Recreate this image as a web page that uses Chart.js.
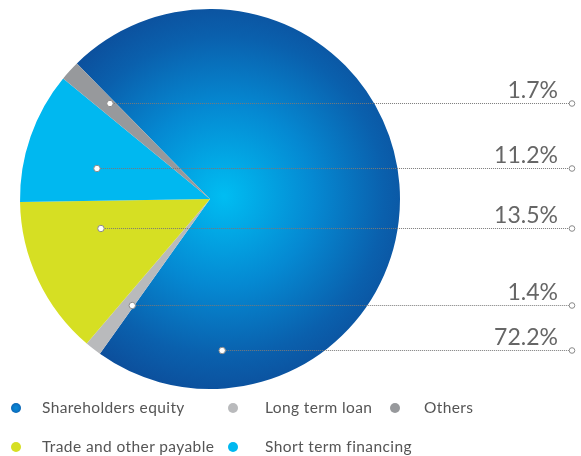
<!DOCTYPE html>
<html>
<head>
<meta charset="utf-8">
<script src="https://cdn.jsdelivr.net/npm/chart.js@4"></script>
<style>
  html, body { margin: 0; padding: 0; background: #fff; }
  #wrap { position: relative; width: 581px; height: 456px; overflow: hidden; }
  #legende { position: absolute; left: 0; top: 0; width: 581px; height: 456px; pointer-events: none;
    font-family: Lato, "Open Sans", sans-serif; font-size: 15.5px; letter-spacing: 0.4px; color: #555; }
  .item { position: absolute; white-space: nowrap; line-height: 18px; }
  .puce { position: absolute; width: 10px; height: 10px; border-radius: 50%; }
</style>
</head>
<body>
<div id="wrap">
  <canvas id="graphique" width="581" height="456"></canvas>
  <div id="legende"></div>
</div>
<script>
"use strict";

// donnees
const categories = ["Shareholders equity", "Long term loan", "Trade and other payable", "Short term financing", "Others"];
const valeurs = [72.2, 1.4, 13.5, 11.2, 1.7];
const etiquettes = ["72.2%", "1.4%", "13.5%", "11.2%", "1.7%"];

// style
const couleurs = ["#0b5aa8", "#b9babc", "#d6df23", "#00b8f0", "#97999c"];
// position du point d'ancrage dans chaque part : fraction de l'angle, fraction du rayon
const ancrages = [[0.846, 0.797], [0.19, 0.69], [0.713, 0.594], [0.404, 0.617], [0.727, 0.73]];
// ordre et position de la legende (index dans categories) : [x puce, x texte, y]
const ordreLegende = [0, 1, 4, 2, 3];
const placesLegende = [[16, 42, 408], [233, 265, 408], [395, 424, 408], [16, 42, 447], [233, 265, 447]];

const finLigneX = 572;

function fondPart(ctx) {
  if (ctx.dataIndex !== 0) return couleurs[ctx.dataIndex];
  const chart = ctx.chart;
  const area = chart.chartArea;
  if (!area) return couleurs[0];
  const cx = (area.left + area.right) / 2 + 14;
  const cy = (area.top + area.bottom) / 2 - 3;
  const g = chart.ctx.createRadialGradient(cx, cy, 0, cx, cy, 200);
  g.addColorStop(0, "#00bdf2");
  g.addColorStop(0.45, "#0589d2");
  g.addColorStop(0.8, "#0a60ad");
  g.addColorStop(1, "#0c4f9c");
  return g;
}

const lignesRepere = {
  id: "lignesRepere",
  afterDatasetsDraw(chart) {
    const ctx = chart.ctx;
    const arcs = chart.getDatasetMeta(0).data;
    ctx.save();
    arcs.forEach((arc, i) => {
      const p = arc.getProps(["x", "y", "startAngle", "endAngle", "outerRadius"], true);
      const a = p.startAngle + (p.endAngle - p.startAngle) * ancrages[i][0];
      const r = p.outerRadius * ancrages[i][1];
      const x = p.x + Math.cos(a) * r;
      const y = Math.round(p.y + Math.sin(a) * r) + 0.5;

      ctx.strokeStyle = "#7a7a7a";
      ctx.lineWidth = 1;
      ctx.setLineDash([1, 1]);
      ctx.beginPath();
      ctx.moveTo(x, y);
      ctx.lineTo(finLigneX - 3, y);
      ctx.stroke();
      ctx.setLineDash([]);

      ctx.fillStyle = "#fff";
      ctx.strokeStyle = "#8a8a8a";
      ctx.beginPath();
      ctx.arc(x, y, 3.2, 0, Math.PI * 2);
      ctx.fill();
      ctx.stroke();
      ctx.beginPath();
      ctx.arc(finLigneX, y, 2.8, 0, Math.PI * 2);
      ctx.fill();
      ctx.stroke();

      ctx.fillStyle = "#666";
      ctx.font = "23px Lato, 'Open Sans', sans-serif";
      ctx.textAlign = "right";
      ctx.textBaseline = "alphabetic";
      ctx.fillText(etiquettes[i], 558, y - 6);
    });
    ctx.restore();
  }
};

let myChart = new Chart(document.getElementById("graphique"), {
  type: "pie",
  data: {
    labels: categories,
    datasets: [{
      data: valeurs,
      backgroundColor: fondPart,
      borderWidth: 0
    }]
  },
  options: {
    responsive: false,
    animation: false,
    rotation: -44.5,
    layout: { padding: { left: 20, top: 9, right: 181, bottom: 67 } },
    plugins: {
      legend: { display: false },
      tooltip: { enabled: false }
    }
  },
  plugins: [lignesRepere]
});

// legende en HTML
let legende = document.getElementById("legende");
ordreLegende.forEach((idx, n) => {
  const [px, tx, py] = placesLegende[n];
  let puce = document.createElement("div");
  puce.className = "puce";
  puce.style.left = (px - 5) + "px";
  puce.style.top = (py - 5) + "px";
  if (idx === 0) {
    puce.style.background = "radial-gradient(circle, #0a8ad6 0%, #0a78c8 45%, #0b4f9c 100%)";
  } else {
    puce.style.background = couleurs[idx];
  }
  legende.appendChild(puce);
  let item = document.createElement("div");
  item.className = "item";
  item.style.left = tx + "px";
  item.style.top = (py - 10) + "px";
  item.textContent = categories[idx];
  legende.appendChild(item);
});
</script>
</body>
</html>
